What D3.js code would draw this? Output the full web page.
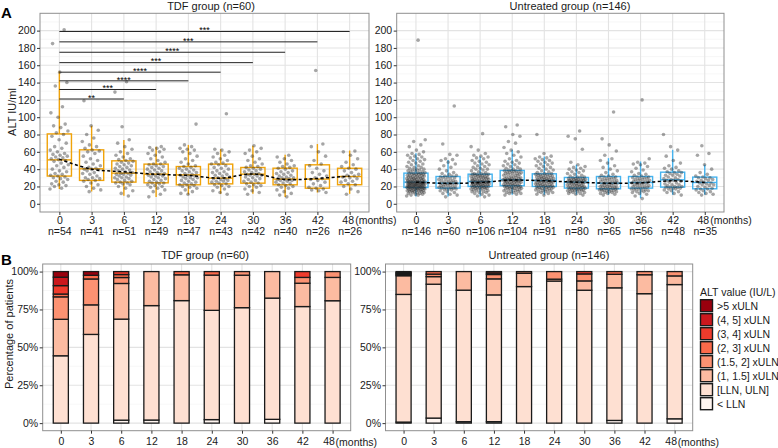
<!DOCTYPE html>
<html>
<head>
<meta charset="utf-8">
<script src="https://cdn.jsdelivr.net/npm/d3@7"></script>
<style>
  body { margin: 0; background: #fff; }
  svg { font-family: "Liberation Sans", Arial, Helvetica, sans-serif; }
</style>
</head>
<body>
<svg width="778" height="448"></svg>
<script>
// ---- data ----
const months = [0, 3, 6, 12, 18, 24, 30, 36, 42, 48];
const tdfN = [54, 41, 51, 49, 47, 43, 42, 40, 26, 26];
const untN = [146, 60, 106, 104, 91, 80, 65, 56, 48, 35];

// box stats (ALT IU/ml)
const tdfQ1 = [32, 27, 25, 24.2, 21.9, 23, 23.8, 21.9, 18, 22];
const tdfMedian = [50.7, 40.4, 35.4, 34.2, 33.4, 29.6, 34.2, 28.5, 28.5, 31.5];
const tdfQ3 = [80.7, 62.3, 49.6, 45.8, 43, 45.8, 41.9, 41.1, 45, 41];
const tdfLow = [17, 14.2, 9.2, 7.7, 10.7, 11.5, 11.5, 7.7, 13, 11.5];
const tdfHigh = [153, 90, 73.8, 66, 68, 63, 67, 56.5, 69, 61.5];
const tdfTrend = [51.5, 40, 37, 34, 32.7, 29.6, 34.5, 28, 29.3, 32];

const untQ1 = [18.8, 18.1, 20, 20.8, 20, 18.1, 17.3, 18.1, 19.2, 17.3];
const untMedian = [25, 23.8, 25.7, 27.7, 26.9, 25, 23.8, 24.6, 27.7, 24.6];
const untQ3 = [35.4, 31.5, 34.2, 38.5, 34.6, 30.4, 31.5, 31.5, 36.5, 30.8];
const untLow = [8.5, 8.5, 8.5, 10.4, 10.4, 10.4, 10.4, 6.5, 10.4, 10.4];
const untHigh = [58.5, 50.7, 54.6, 62.3, 54.6, 45, 52.7, 48.8, 62.3, 45];
const untTrend = [25, 23.5, 24.6, 27.3, 26.5, 25, 23.8, 24.2, 26.5, 24.6];

// individual patients (jittered dots)
const tdfPoints = [
  [17,18,20,21,22,23,25,26,28,29,30,31,32,33,34,35,37,38,40,42,44,45,47,49,50,51,52,53,54,55,56,57,58,60,62,64,66,70,74,78,80,82,84,88,90,92,100,105,112,136,140,152,185,201],
  [14,16,18,20,22,24,26,27,28,29,30,30,32,34,35,36,38,39,40,40,41,42,44,46,48,50,52,55,58,60,61,62,64,66,68,72,76,80,85,90,119],
  [9,12,15,18,20,22,23,24,24,25,26,27,28,29,30,30,31,32,33,34,34,35,35,36,37,38,39,40,41,42,43,44,45,46,47,48,49,50,51,52,54,56,58,60,63,66,70,74,89,129,141],
  [8,11,14,16,18,19,20,21,22,23,24,24,25,26,27,28,29,30,31,32,32,33,34,34,35,36,37,38,39,40,41,42,43,44,45,46,46,48,50,52,54,56,58,60,62,63,64,65,66],
  [11,12,14,16,18,19,20,21,22,22,23,24,25,26,27,28,29,30,30,31,32,33,33,34,35,36,37,38,39,40,41,42,43,44,46,48,50,52,55,58,60,62,63,64,66,68,92],
  [11,13,15,17,19,20,21,22,23,24,25,26,26,27,28,29,29,30,31,32,33,34,35,36,37,38,40,41,42,44,45,46,47,48,50,52,54,56,58,60,62,63,104],
  [11,13,15,17,19,20,21,22,23,24,25,26,27,28,29,30,31,32,33,33,34,34,35,36,37,38,39,40,41,42,43,44,46,48,50,52,55,58,60,62,64,67],
  [8,10,12,14,16,18,19,20,21,22,23,24,25,26,27,27,28,28,29,30,30,31,32,33,34,35,36,37,38,40,41,42,43,44,46,48,50,52,54,56],
  [13,15,16,17,18,19,21,23,25,27,28,29,30,32,34,36,38,41,44,46,50,55,60,66,69,154],
  [11,14,17,20,22,23,25,26,27,29,30,31,32,33,34,36,38,40,41,43,45,48,52,56,60,61]
];
const untPoints = [
  [9,10,10,11,11,12,12,13,13,13,14,14,14,15,15,15,15,16,16,16,16,17,17,17,17,17,18,18,18,18,18,19,19,19,19,19,
   19,19,20,20,20,20,20,21,21,21,21,21,21,22,22,22,22,22,22,23,23,23,23,23,23,24,24,24,24,24,24,24,25,25,25,25,25,
   25,25,26,26,26,26,27,27,27,27,28,28,28,28,29,29,29,30,30,30,30,31,31,31,32,32,32,33,33,33,34,34,34,34,35,35,35,
   36,36,37,37,38,38,39,39,40,40,41,42,42,43,44,45,46,47,48,49,50,51,52,53,54,55,56,57,58,60,62,66,68,72,74,189],
  [8,10,11,12,13,14,15,16,16,17,17,18,18,18,19,19,20,20,21,21,22,22,23,23,23,24,24,24,25,25,26,26,27,27,28,28,29,30,30,31,31,32,32,33,34,35,36,38,40,42,44,46,48,50,51,52,56,57,69,113],
  [8,9,10,11,12,13,13,14,14,15,15,16,16,17,17,17,18,18,18,19,19,19,19,20,20,20,
   20,21,21,21,21,22,22,22,22,23,23,23,23,24,24,24,24,24,25,25,25,25,25,26,26,26,26,
   26,27,27,27,28,28,28,29,29,29,30,30,30,31,31,31,32,32,32,33,33,33,34,34,34,34,
   35,35,36,37,38,39,40,40,41,42,43,44,45,46,47,48,49,50,52,53,54,55,56,58,62,66,81],
  [10,11,12,12,13,13,14,14,15,15,16,16,17,17,17,18,18,18,19,19,19,20,20,20,20,21,
   21,21,22,22,22,23,23,23,24,24,24,25,25,25,26,26,26,26,27,27,27,27,27,28,28,28,
   28,29,29,29,30,30,30,31,31,32,32,33,33,34,34,35,35,35,36,36,37,37,37,38,38,38,
   39,40,40,41,42,43,44,45,46,47,48,49,50,52,54,56,58,60,62,65,70,72,78,80,89,91],
  [10,11,12,13,13,14,14,15,15,16,16,17,17,17,18,18,18,19,19,19,20,20,20,
   20,21,21,21,22,22,22,23,23,23,24,24,24,25,25,25,26,26,26,26,27,27,27,
   27,28,28,28,29,29,29,30,30,30,31,31,31,32,32,33,33,33,34,34,34,35,
   35,36,37,38,39,40,41,42,43,44,45,46,47,48,49,50,51,52,53,54,55,58,80],
  [10,11,12,12,13,13,14,14,15,15,15,16,16,16,17,17,17,17,18,18,
   18,19,19,19,20,20,20,21,21,21,22,22,22,23,23,23,24,24,24,25,
   25,25,25,26,26,26,26,27,27,27,27,28,28,28,28,29,29,29,30,30,
   31,31,32,33,34,35,36,37,38,39,40,41,42,43,45,48,63,75,78,84],
  [10,11,12,12,13,13,14,14,15,15,15,16,16,16,17,17,17,18,18,18,19,19,19,20,20,21,21,21,22,22,23,23,24,
   24,24,25,25,26,26,27,27,28,28,29,29,30,30,31,31,32,33,34,36,38,40,42,44,47,50,52,56,61,68,75,106],
  [6,9,11,12,13,14,14,15,15,16,16,17,17,18,18,19,19,20,20,21,21,22,22,23,23,24,24,24,
   25,25,26,26,27,27,28,28,29,29,30,30,31,31,32,33,34,35,37,39,41,43,45,46,47,48,52,120],
  [10,12,13,14,15,16,17,17,18,18,19,19,19,20,20,21,22,22,23,24,25,26,27,27,
   28,28,29,30,31,32,33,33,34,35,36,36,37,38,40,41,42,44,47,50,55,62,66,80],
  [10,11,12,13,14,15,16,17,17,18,19,20,21,22,22,23,24,24,25,26,27,27,28,29,30,30,31,32,34,36,40,45,56,58,67]
];

// comparisons against baseline (TDF group)
const sigMonths = [6, 12, 18, 24, 30, 36, 42, 48];
const sigLabels = ["**", "***", "****", "****", "***", "****", "***", "***"];
const sigLevels = [121, 132, 142, 152, 163, 175, 187, 199];

// ALT category counts per visit (bottom to top of each stacked bar)
const altCategories = ["< LLN", "[LLN, ULN]", "(1, 1.5] xULN", "(1.5, 2] xULN",
  "(2, 3] xULN", "(3, 4] xULN", "(4, 5] xULN", ">5 xULN"];
const altColors = ["#fff5f0", "#fee0d2", "#fcbba1", "#fc9272", "#fb6a4a", "#ef3b2c", "#cb181d", "#99000d"];
const tdfCounts = [
  [0, 0, 1, 1, 0, 1, 0, 1, 0, 0],
  [24, 24, 34, 37, 38, 31, 32, 32, 20, 21],
  [13, 8, 12, 11, 8, 10, 9, 7, 4, 4],
  [8, 7, 2, 0, 0, 0, 1, 0, 1, 1],
  [1, 1, 1, 0, 1, 1, 0, 0, 0, 0],
  [3, 0, 1, 0, 0, 0, 0, 0, 1, 0],
  [3, 0, 0, 0, 0, 0, 0, 0, 0, 0],
  [2, 1, 0, 0, 0, 0, 0, 0, 0, 0]
];
const untCounts = [
  [1, 2, 1, 1, 0, 0, 0, 1, 0, 1],
  [123, 53, 92, 87, 82, 75, 57, 49, 41, 31],
  [18, 3, 13, 11, 8, 1, 4, 5, 6, 2],
  [1, 1, 0, 3, 1, 4, 3, 0, 1, 1],
  [1, 1, 0, 1, 0, 0, 0, 1, 0, 0],
  [0, 0, 0, 1, 0, 0, 1, 0, 0, 0],
  [1, 0, 0, 0, 0, 0, 0, 0, 0, 0],
  [1, 0, 0, 0, 0, 0, 0, 0, 0, 0]
];

var svg = d3.select("svg");
var gridMajor = "#e3e3e3", gridMinor = "#f1f1f1", borderCol = "#8f8f8f", textCol = "#1a1a1a";

function styleAxis(g) {
  g.select(".domain").remove();
  g.selectAll(".tick line").attr("stroke", "#333");
  g.selectAll(".tick text").attr("fill", textCol).attr("font-size", 10.5);
}

// ---------- panel A: box plots ----------
function drawBoxPanel(p) {
  var x = d3.scalePoint().domain(months).range([p.left, p.right]).padding(0.6),
    y = d3.scaleLinear().domain([-9.5, 220]).range([212, 13.3]);
  var g = svg.append("g");
  var step = x.step();

  g.selectAll(".minor").data(d3.range(10, 220, 20)).enter().append("line")
    .attr("x1", p.left).attr("x2", p.right)
    .attr("y1", (d) => y(d)).attr("y2", (d) => y(d))
    .attr("stroke", gridMinor).attr("stroke-width", 0.6);
  g.selectAll(".major").data(d3.range(0, 220, 20)).enter().append("line")
    .attr("x1", p.left).attr("x2", p.right)
    .attr("y1", (d) => y(d)).attr("y2", (d) => y(d))
    .attr("stroke", gridMajor).attr("stroke-width", 1.1);
  g.selectAll(".vgrid").data(months).enter().append("line")
    .attr("x1", (d) => x(d)).attr("x2", (d) => x(d))
    .attr("y1", 13.3).attr("y2", 212)
    .attr("stroke", gridMajor).attr("stroke-width", 1.1);

  // boxes + whiskers
  var bw = step * 0.75;
  var boxes = g.selectAll(".box").data(months).enter().append("g");
  boxes.append("line")
    .attr("x1", (d) => x(d)).attr("x2", (d) => x(d))
    .attr("y1", (d, i) => y(p.q3[i])).attr("y2", (d, i) => y(p.high[i]))
    .attr("stroke", p.color).attr("stroke-width", 1.4);
  boxes.append("line")
    .attr("x1", (d) => x(d)).attr("x2", (d) => x(d))
    .attr("y1", (d, i) => y(p.q1[i])).attr("y2", (d, i) => y(p.low[i]))
    .attr("stroke", p.color).attr("stroke-width", 1.4);
  boxes.append("rect")
    .attr("x", (d) => x(d) - bw / 2).attr("width", bw)
    .attr("y", (d, i) => y(p.q3[i]))
    .attr("height", (d, i) => y(p.q1[i]) - y(p.q3[i]))
    .attr("fill", "none").attr("stroke", p.color).attr("stroke-width", 1.4);
  boxes.append("line")
    .attr("x1", (d) => x(d) - bw / 2).attr("x2", (d) => x(d) + bw / 2)
    .attr("y1", (d, i) => y(p.median[i])).attr("y2", (d, i) => y(p.median[i]))
    .attr("stroke", p.color).attr("stroke-width", 1.4);

  // jittered dots (spread along x only, deterministic)
  p.points.forEach((vals, k) => {
    g.append("g").selectAll("circle").data(vals).enter().append("circle")
      .attr("cx", (d, i) => x(months[k]) + (((i * 0.6180339 + k * 0.37) % 1) - 0.5) * step * 0.58)
      .attr("cy", (d) => y(d))
      .attr("r", 1.8)
      .attr("fill", "#2b2b2b").attr("fill-opacity", 0.42);
  });

  // dashed trend
  var line = d3.line().x((d, i) => x(months[i])).y((d) => y(d)).curve(d3.curveCatmullRom.alpha(0.5));
  g.append("path").attr("d", line(p.trend))
    .attr("fill", "none").attr("stroke", "#000").attr("stroke-width", 1.5)
    .attr("stroke-dasharray", "3,2.5");

  // significance brackets
  if (p.sig) {
    sigMonths.forEach((m, i) => {
      g.append("line")
        .attr("x1", x(0)).attr("x2", x(m))
        .attr("y1", y(sigLevels[i])).attr("y2", y(sigLevels[i]))
        .attr("stroke", "#222").attr("stroke-width", 1);
      g.append("text")
        .attr("x", (x(0) + x(m)) / 2).attr("y", y(sigLevels[i]) + 1.8)
        .attr("text-anchor", "middle").attr("font-size", 9).attr("fill", "#000")
        .text(sigLabels[i]);
    });
  }

  g.append("rect").attr("x", p.left).attr("y", 13.3)
    .attr("width", p.right - p.left).attr("height", 212 - 13.3)
    .attr("fill", "none").attr("stroke", borderCol).attr("stroke-width", 1);

  // axes
  g.append("g").attr("transform", "translate(" + p.left + ",0)")
    .call(d3.axisLeft(y).tickValues(d3.range(0, 201, 20)).tickSize(3).tickPadding(1.5))
    .call(styleAxis);
  var ax = g.append("g").attr("transform", "translate(0,212)")
    .call(d3.axisBottom(x).tickSize(3).tickPadding(1.5))
    .call(styleAxis);
  ax.selectAll(".tick text").attr("font-size", 10.5)
    .attr("dx", (d) => (d === 48 ? -2 : 0));
  ax.selectAll(".tick").append("text")
    .attr("y", 23.2).attr("text-anchor", "middle")
    .attr("fill", textCol).attr("font-size", 10.5)
    .text((d, i) => "n=" + p.n[i]);
  ax.append("text").attr("x", x(48) + 5.5).attr("y", 12)
    .attr("fill", textCol).attr("font-size", 10.5).attr("text-anchor", "start")
    .text("(months)");

  svg.append("text").attr("x", p.titleX).attr("y", 9.5)
    .attr("text-anchor", "middle").attr("font-size", 11).attr("fill", textCol)
    .text(p.title);
}

drawBoxPanel({
  left: 40, right: 369, title: "TDF group (n=60)", titleX: 211, color: "#f0a30a",
  q1: tdfQ1, median: tdfMedian, q3: tdfQ3, low: tdfLow, high: tdfHigh,
  trend: tdfTrend, points: tdfPoints, n: tdfN, sig: true
});
drawBoxPanel({
  left: 396.7, right: 724, title: "Untreated group (n=146)", titleX: 570, color: "#45b3ef",
  q1: untQ1, median: untMedian, q3: untQ3, low: untLow, high: untHigh,
  trend: untTrend, points: untPoints, n: untN, sig: false
});

// ---------- panel B: stacked proportions ----------
function drawBarPanel(p) {
  var x = d3.scalePoint().domain(months).range([p.left, p.right]).padding(0.6),
    y = d3.scaleLinear().domain([-5, 105]).range([430.7, 264]);
  var g = svg.append("g");

  g.selectAll(".minor").data([12.5, 37.5, 62.5, 87.5]).enter().append("line")
    .attr("x1", p.left).attr("x2", p.right)
    .attr("y1", (d) => y(d)).attr("y2", (d) => y(d))
    .attr("stroke", gridMinor).attr("stroke-width", 0.6);
  g.selectAll(".major").data([0, 25, 50, 75, 100]).enter().append("line")
    .attr("x1", p.left).attr("x2", p.right)
    .attr("y1", (d) => y(d)).attr("y2", (d) => y(d))
    .attr("stroke", gridMajor).attr("stroke-width", 1.1);
  g.selectAll(".vgrid").data(months).enter().append("line")
    .attr("x1", (d) => x(d)).attr("x2", (d) => x(d))
    .attr("y1", 264).attr("y2", 430.7)
    .attr("stroke", gridMajor).attr("stroke-width", 1.1);

  // percentages per visit
  var rows = months.map((m, i) => {
    var total = d3.sum(p.counts, (c) => c[i]);
    var row = { month: m };
    altCategories.forEach((cat, j) => { row[cat] = p.counts[j][i] / total * 100; });
    return row;
  });
  var series = d3.stack().keys(altCategories)(rows);
  var bw = x.step() * 0.5;

  series.forEach((s, j) => {
    g.append("g").selectAll("rect")
      .data(s.filter((d) => d[1] - d[0] > 0)).enter().append("rect")
      .attr("x", (d) => x(d.data.month) - bw / 2).attr("width", bw)
      .attr("y", (d) => y(d[1]))
      .attr("height", (d) => y(d[0]) - y(d[1]))
      .attr("fill", altColors[j])
      .attr("stroke", "#1a1a1a").attr("stroke-width", 1.3);
  });

  g.append("rect").attr("x", p.left).attr("y", 264)
    .attr("width", p.right - p.left).attr("height", 430.7 - 264)
    .attr("fill", "none").attr("stroke", borderCol).attr("stroke-width", 1);

  g.append("g").attr("transform", "translate(" + p.left + ",0)")
    .call(d3.axisLeft(y).tickValues([0, 25, 50, 75, 100]).tickFormat((d) => d + "%").tickSize(3).tickPadding(1.5))
    .call(styleAxis);
  var ax = g.append("g").attr("transform", "translate(0,430.7)")
    .call(d3.axisBottom(x).tickSize(3).tickPadding(4))
    .call(styleAxis);
  ax.selectAll(".tick text").attr("dx", (d) => (d === 48 ? -4 : 0));
  ax.append("text").attr("x", x(48) + 3).attr("y", 15)
    .attr("fill", textCol).attr("font-size", 10.5).attr("text-anchor", "start")
    .text("(months)");

  svg.append("text").attr("x", p.titleX).attr("y", 258.5)
    .attr("text-anchor", "middle").attr("font-size", 11).attr("fill", textCol)
    .text(p.title);
}

drawBarPanel({ left: 42.7, right: 350.7, counts: tdfCounts, title: "TDF group (n=60)", titleX: 205 });
drawBarPanel({ left: 385.5, right: 692.7, counts: untCounts, title: "Untreated group (n=146)", titleX: 549 });

// legend
var legend = svg.append("g").attr("transform", "translate(700,0)");
legend.append("text").attr("x", 0).attr("y", 295.5)
  .attr("font-size", 10.5).attr("fill", textCol).text("ALT value (IU/L)");
altCategories.slice().reverse().forEach((cat, i) => {
  var cy = 305.7 + i * 14;
  legend.append("rect").attr("x", 0.5).attr("y", cy - 6).attr("width", 12).attr("height", 12)
    .attr("fill", altColors[altCategories.length - 1 - i])
    .attr("stroke", "#1a1a1a").attr("stroke-width", 1.4);
  legend.append("text").attr("x", 17).attr("y", cy + 3.8)
    .attr("font-size", 10.5).attr("fill", textCol).text(cat);
});

// panel letters and axis titles
svg.append("text").attr("x", 1).attr("y", 18).attr("font-size", 15).attr("font-weight", "bold").text("A");
svg.append("text").attr("x", 1).attr("y", 265).attr("font-size", 15).attr("font-weight", "bold").text("B");
svg.append("text").attr("transform", "translate(16,112) rotate(-90)")
  .attr("text-anchor", "middle").attr("font-size", 11).attr("fill", textCol).text("ALT IU/ml");
svg.append("text").attr("transform", "translate(13,334) rotate(-90)")
  .attr("text-anchor", "middle").attr("font-size", 11).attr("fill", textCol).text("Percentage of patients");
</script>
</body>
</html>
